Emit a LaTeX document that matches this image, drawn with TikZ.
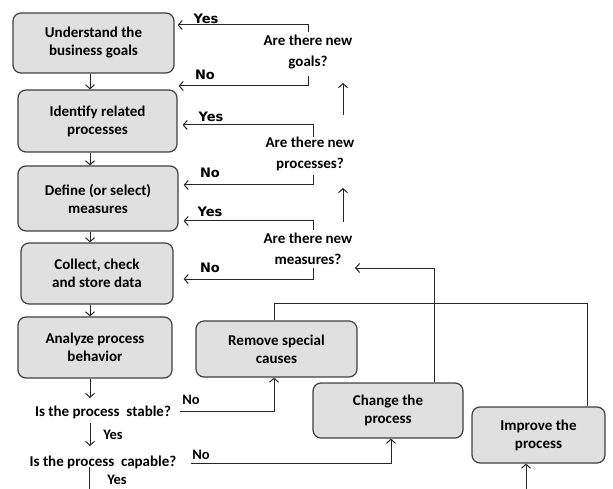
\documentclass[tikz,border=0pt]{standalone}
\usepackage{fontspec}
\setmainfont{Carlito}
\newfontfamily\labfont{DejaVu Sans}
\usetikzlibrary{arrows.meta}
\begin{document}
\begin{tikzpicture}[x=1pt,y=-1pt,
  box/.style={draw=black!75, fill=black!12, rounded corners=8pt, line width=1.2pt,
    align=center, font=\bfseries\fontsize{15}{18}\selectfont, inner sep=0pt},
  conn/.style={line width=1pt, draw=black!85},
  arr/.style={conn, -{Straight Barb[length=4pt,width=9pt]}},
  q/.style={align=center, font=\bfseries\fontsize{15}{21}\selectfont, inner sep=0pt},
  yn/.style={font=\labfont\bfseries\fontsize{13}{14}\selectfont, inner sep=0pt},
  yn2/.style={font=\bfseries\fontsize{14.5}{16}\selectfont, inner sep=0pt}]
\useasboundingbox (0,0) rectangle (613,489);

% main column
\node[box, minimum width=161pt, minimum height=60pt] (b1) at (93.5,43) {Understand the\\business goals};
\node[box, minimum width=159pt, minimum height=62pt] (b2) at (97.5,121) {Identify related\\processes};
\node[box, minimum width=160pt, minimum height=65pt] (b3) at (98,198.5) {Define (or select)\\measures};
\node[box, minimum width=152pt, minimum height=61pt] (b4) at (97,273.5) {Collect, check\\and store data};
\node[box, minimum width=154pt, minimum height=61pt] (b5) at (95,347.5) {Analyze process\\behavior};

% action boxes
\node[box, minimum width=161pt, minimum height=56pt] (rm) at (276.5,349) {Remove special\\causes};
\node[box, minimum width=150pt, minimum height=55pt] (ch) at (388,410.5) {Change the\\process};
\node[box, minimum width=133pt, minimum height=56pt] (im) at (538.5,435) {Improve the\\process};

% questions
\node[q] (qg) at (308,52) {Are there new\\goals?};
\node[q] (qp) at (310,154) {Are there new\\processes?};
\node[q] (qm) at (308,249) {Are there new\\measures?};
\node[q] (qs) at (103,412) {Is the process~ stable?};
\node[q] (qc) at (103,462) {Is the process~ capable?};

% coordinates
\coordinate (colx) at (90,0);
\coordinate (gY) at (308,32);
\coordinate (gN) at (308,76);
\coordinate (pY) at (313,137);
\coordinate (pN) at (313,175);
\coordinate (mY) at (313,230);
\coordinate (mN) at (313,268);
\coordinate (up1a) at (343,115);
\coordinate (up1b) at (343,83);
\coordinate (up2a) at (343,222);
\coordinate (up2b) at (343,188);
\coordinate (mIn) at (355,268);
\coordinate (loopR) at (587,303);
\coordinate (sOut) at (180,411);
\coordinate (cOut) at (191,463);
\coordinate (sEnd) at (90,398);
\coordinate (cTop) at (90,423);
\coordinate (cIn) at (90,446);
\coordinate (cDownA) at (89,467);
\coordinate (cDownB) at (89,489);
\coordinate (imIn) at (526,489);

% main column arrows
\draw[arr] (b1.south -| colx) -- (b2.north -| colx);
\draw[arr] (b2.south -| colx) -- (b3.north -| colx);
\draw[arr] (b3.south -| colx) -- (b4.north -| colx);
\draw[arr] (b4.south -| colx) -- (b5.north -| colx);
\draw[arr] (b5.south -| colx) -- (sEnd);
\draw[arr] (cTop) -- (cIn);
\draw[conn] (cDownA) -- (cDownB);

% feedback arrows
\draw[arr, shorten >=3pt] (gY) |- (b1.east |- 0,25);
\draw[arr, shorten >=1pt] (gN) |- (b2.east |- 0,86);
\draw[arr, shorten >=5pt] (pY) |- (b2.east |- 0,125);
\draw[arr, shorten >=5pt] (pN) |- (b3.east |- 0,185);
\draw[arr, shorten >=5pt] (mY) |- (b3.east |- 0,221);
\draw[arr, shorten >=10pt] (mN) |- (b4.east |- 0,279);
\draw[arr] (up1a) -- (up1b);
\draw[arr] (up2a) -- (up2b);

% right side loops
\draw[arr] (ch.north -| 434,0) |- (mIn);
\draw[conn] (rm.north -| 274,0) |- (loopR) -- (im.north -| loopR);
\draw[arr] (sOut) -| (rm.south -| 274,0);
\draw[arr] (cOut) -| (ch.south -| 391,0);
\draw[arr] (imIn) -- (im.south -| imIn);

% labels
\node[yn] at (206,19) {Yes};
\node[yn] at (205,75) {No};
\node[yn] at (211,117) {Yes};
\node[yn] at (210,173) {No};
\node[yn] at (210,212) {Yes};
\node[yn] at (210,268) {No};
\node[yn2] at (191,400) {No};
\node[yn2] at (113,435) {Yes};
\node[yn2] at (201,455) {No};
\node[yn2] at (117,480) {Yes};
\end{tikzpicture}
\end{document}
